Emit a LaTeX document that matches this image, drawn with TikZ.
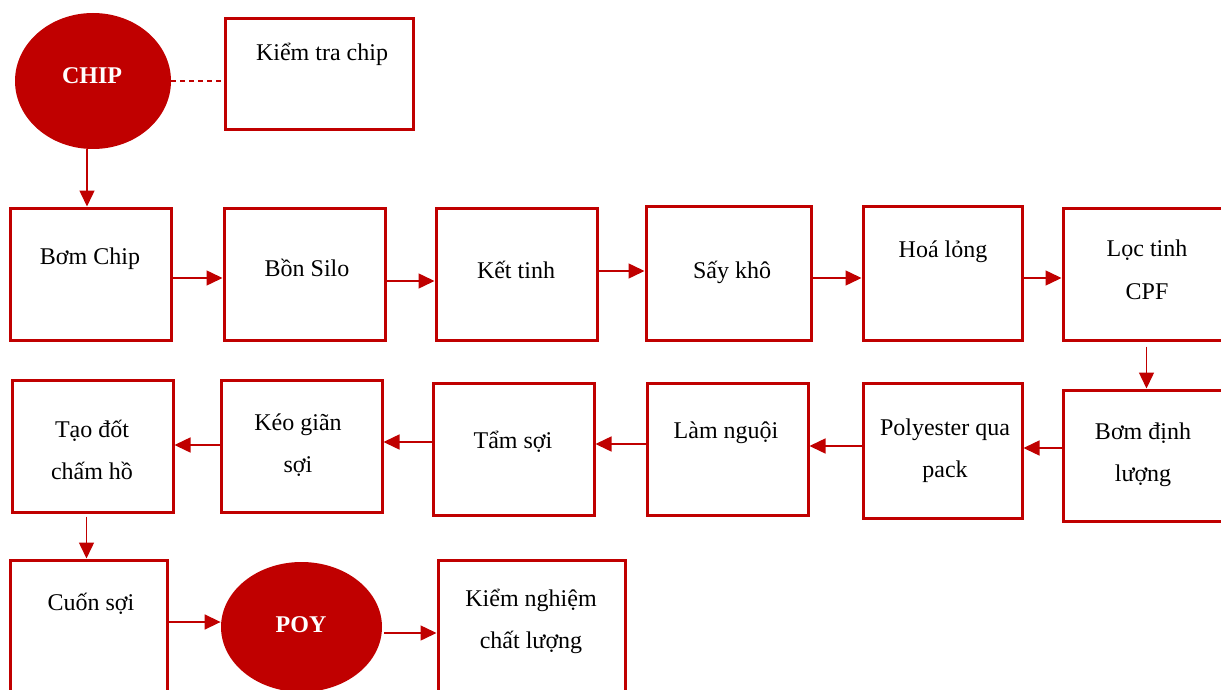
\documentclass[tikz,border=0pt]{standalone}
\usepackage{fontspec}
\setmainfont{Liberation Serif}
\usetikzlibrary{arrows.meta,shapes.geometric,calc}
\definecolor{dred}{HTML}{C00000}
\begin{document}
\begin{tikzpicture}[x=0.5pt,y=-0.5pt,
  box/.style={draw=dred,line width=1.5pt,rectangle,inner sep=0pt},
  oval/.style={fill=dred,draw=none,ellipse,inner sep=0pt},
  lbl/.style={anchor=base,align=center,font=\fontsize{12}{21}\selectfont,inner sep=0pt},
  olbl/.style={lbl,text=white,font=\fontsize{12}{21}\selectfont\bfseries},
  arr/.style={draw=dred,line width=0.75pt,-{Triangle[length=8pt,width=7.5pt]}},
  dsh/.style={draw=dred,line width=0.75pt,dash pattern=on 2.5pt off 2pt}]
\useasboundingbox (0,0) rectangle (1221,690);
% row 0
\node[oval,minimum width=78pt,minimum height=68pt] (chip) at (93,81) {};
\node[box,minimum width=94pt,minimum height=55.5pt] (kt) at (319,74.5) {};
% row 1
\node[box,minimum width=80.5pt,minimum height=66pt] (b1) at (90.5,274) {};
\node[box,minimum width=80.5pt,minimum height=66pt] (b2) at (304.5,274) {};
\node[box,minimum width=80.5pt,minimum height=66pt] (b3) at (516.5,274) {};
\node[box,minimum width=82.5pt,minimum height=67pt] (b4) at (728.5,273) {};
\node[box,minimum width=79.5pt,minimum height=67pt] (b5) at (942.5,273) {};
\node[box,minimum width=83.5pt,minimum height=66pt] (b6) at (1146.5,274) {};
% row 2
\node[box,minimum width=83.5pt,minimum height=65.5pt] (c1) at (1146.5,455.5) {};
\node[box,minimum width=79.5pt,minimum height=67.5pt] (c2) at (942.5,450.5) {};
\node[box,minimum width=80.5pt,minimum height=66pt] (c3) at (727.5,449) {};
\node[box,minimum width=80.5pt,minimum height=66pt] (c4) at (513.5,449) {};
\node[box,minimum width=80.5pt,minimum height=66pt] (c5) at (301.5,446) {};
\node[box,minimum width=80.5pt,minimum height=66pt] (c6) at (92.5,446) {};
% row 3
\node[box,minimum width=78.5pt,minimum height=70pt] (d1) at (88.5,630) {};
\node[oval,minimum width=80.5pt,minimum height=65pt] (poy) at (301.5,627) {};
\node[box,minimum width=93.5pt,minimum height=70pt] (d3) at (531.5,630) {};
% labels
\node[olbl] (tchip) at (92,84) {CHIP};
\node[lbl] (tkt) at (322,61) {Kiểm tra chip};
\node[lbl] (tb1) at (90,264) {Bơm Chip};
\node[lbl] (tb2) at (307,276) {Bồn Silo};
\node[lbl] (tb3) at (516,278) {Kết tinh};
\node[lbl] (tb4) at (732,278) {Sấy khô};
\node[lbl] (tb5) at (943,257) {Hoá lỏng};
\node[lbl] (tb6) at (1147,299) {Lọc tinh\\CPF};
\node[lbl] (tc1) at (1143,481) {Bơm định\\lượng};
\node[lbl] (tc2) at (945,477) {Polyester qua\\pack};
\node[lbl] (tc3) at (726,438) {Làm nguội};
\node[lbl] (tc4) at (513,448) {Tẩm sợi};
\node[lbl] (tc5) at (298,472) {Kéo giãn\\sợi};
\node[lbl] (tc6) at (92,479) {Tạo đốt\\chấm hồ};
\node[lbl] (td1) at (91,610) {Cuốn sợi};
\node[olbl] (tpoy) at (301,632) {POY};
\node[lbl] (td3) at (531,648) {Kiểm nghiệm\\chất lượng};
% connectors
\draw[dsh] (chip.east) -- (chip.east -| kt.west);
\draw[arr] (chip.south) ++(-6,0) coordinate (s0) -- (s0 |- b1.north);
\draw[arr] (b1.east) ++(0,4) coordinate (s1) -- (s1 -| b2.west);
\draw[arr] (b2.east) ++(0,7) coordinate (s2) -- (s2 -| b3.west);
\draw[arr] (b3.east) ++(0,-3) coordinate (s3) -- (s3 -| b4.west);
\draw[arr] (b4.east) ++(0,5) coordinate (s4) -- (s4 -| b5.west);
\draw[arr] (b5.east) ++(0,5) coordinate (s5) -- (s5 -| b6.west);
\draw[arr] (b6.south) ++(0,5) coordinate (s6) -- (s6 |- c1.north);
\draw[arr] (c1.west) ++(0,-7.5) coordinate (s7) -- (s7 -| c2.east);
\draw[arr] (c2.west) ++(0,-4.5) coordinate (s8) -- (s8 -| c3.east);
\draw[arr] (c3.west) ++(0,-5) coordinate (s9) -- (s9 -| c4.east);
\draw[arr] (c4.west) ++(0,-7) coordinate (s10) -- (s10 -| c5.east);
\draw[arr] (c5.west) ++(0,-1) coordinate (s11) -- (s11 -| c6.east);
\draw[arr] (c6.south) ++(-6,3) coordinate (s12) -- (s12 |- d1.north);
\draw[arr] (d1.east) ++(0,-8) coordinate (s13) -- (s13 -| poy.west);
\draw[arr] (poy.east) ++(2,6) coordinate (s14) -- (s14 -| d3.west);
\end{tikzpicture}
\end{document}
